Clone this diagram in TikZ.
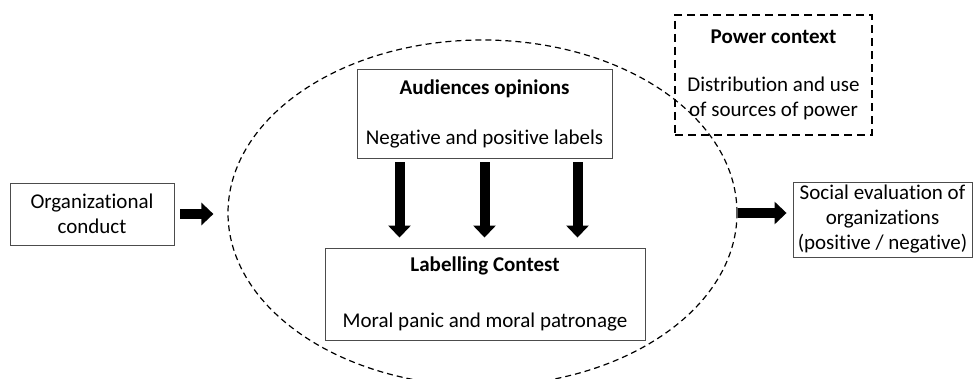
\documentclass[tikz,border=0pt]{standalone}
\usepackage{fontspec}
\setmainfont{Carlito}[Ligatures=NoCommon]
\usetikzlibrary{shapes.geometric, arrows.meta}

\begin{document}
\begin{tikzpicture}[x=1pt, y=-1pt]

\tikzset{box/.style = {shape=rectangle, draw=black!70, line width=0.9pt, inner sep=0pt, align=center, font=\fontsize{21}{25}\selectfont}}
\tikzset{edge/.style = {line width=10pt, -{Triangle[width=22pt, length=12pt]}}}
\useasboundingbox (0,0) rectangle (974,379);
%arena
\node[shape=ellipse, draw, dashed, dash pattern=on 6pt off 4pt, line width=1.2pt, minimum width=509pt, minimum height=346pt, inner sep=0pt] (arena) at (482.5,213) {};
%boxes
\node[box, minimum width=164pt, minimum height=62pt] (org) at (92,214) {Organizational\\conduct};
\node[box, minimum width=255pt, minimum height=89pt] (aud) at (484.5,113.5) {\textbf{Audiences opinions}\\[25pt]Negative and positive labels};
\node[box, minimum width=320pt, minimum height=92pt] (lab) at (485,294) {\textbf{Labelling Contest}\\[31pt]Moral panic and moral patronage};
\node[box, draw=black, line width=2.4pt, dash pattern=on 8pt off 5pt, minimum width=197pt, minimum height=120pt] (power) at (773.5,75) {\textbf{Power context}\\[23pt]Distribution and use\\of sources of power};
\node[box, minimum width=179pt, minimum height=75pt] (social) at (882.5,219.5) {Social evaluation of\\organizations\\(positive / negative)};
%edges
\draw[edge, shorten <=6pt, shorten >=14pt] (org.east) -- (org.east -| arena.west);
\draw[edge, shorten >=6pt] (arena.east) -- (arena.east -| social.west);
\draw[edge, shorten <=4pt, shorten >=10pt] ([xshift=-85pt]aud.south) -- ([xshift=-85pt]aud.south |- lab.north);
\draw[edge, shorten <=4pt, shorten >=10pt] (aud.south) -- (aud.south |- lab.north);
\draw[edge, shorten <=4pt, shorten >=10pt] ([xshift=93pt]aud.south) -- ([xshift=93pt]aud.south |- lab.north);

\end{tikzpicture}
\end{document}
